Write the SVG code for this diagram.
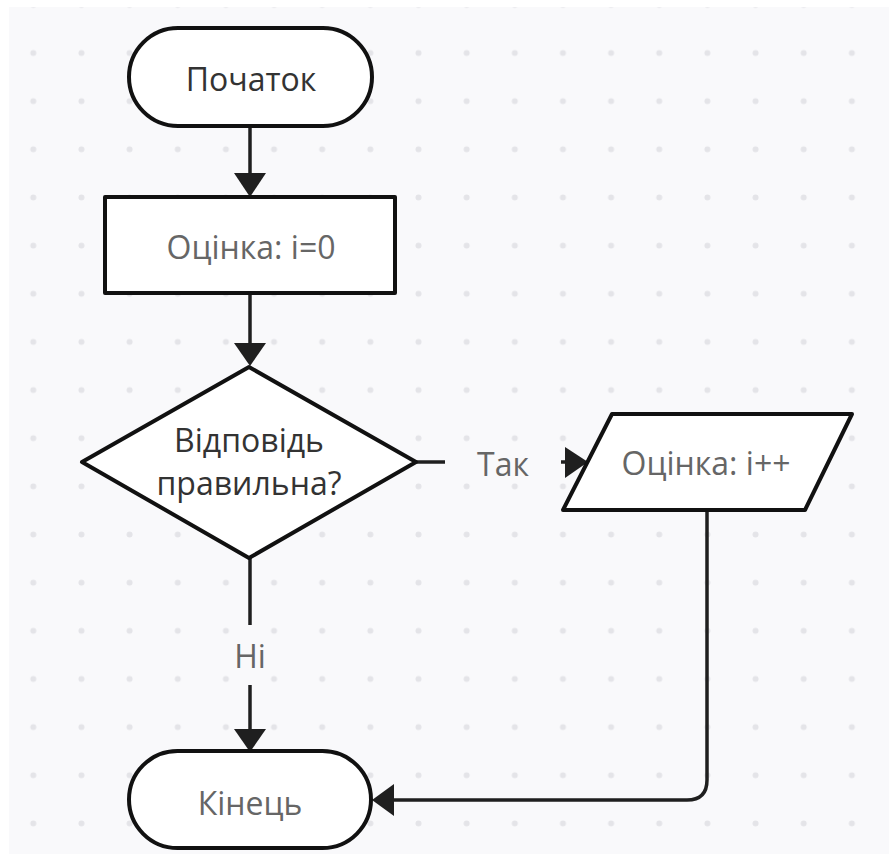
<svg xmlns="http://www.w3.org/2000/svg" width="889" height="854" viewBox="0 0 889 854">
  <defs>
    <pattern id="dots" x="9.2" y="-19.2" width="48.15" height="48.15" patternUnits="userSpaceOnUse">
      <circle cx="24.1" cy="24.1" r="3" fill="#e4e4e8"/>
    </pattern>
    <style>
      .shape { fill: #ffffff; stroke: #111111; stroke-width: 4; stroke-linejoin: round; }
      .conn { fill: none; stroke: #1f1f1f; stroke-width: 3.5; }
      .head { fill: #1f1f1f; }
      .t { font-family: "Open Sans", "Noto Sans", "DejaVu Sans", sans-serif; font-size: 32px; text-anchor: middle; }
      .dark { fill: #333333; }
      .grey { fill: #666666; }
    </style>
  </defs>

  <rect x="0" y="0" width="889" height="854" fill="#ffffff"/>
  <rect x="9" y="7" width="880" height="847" fill="#f9f9fb"/>
  <rect x="9" y="7" width="880" height="847" fill="url(#dots)"/>

  <g id="connectors">
    <line class="conn" x1="250" y1="126" x2="250" y2="175"/>
    <polygon class="head" points="234,173 266,173 250,197"/>
    <line class="conn" x1="250" y1="293" x2="250" y2="345"/>
    <polygon class="head" points="234,343 266,343 250,366"/>
    <line class="conn" x1="416" y1="462" x2="445" y2="462"/>
    <line class="conn" x1="561" y1="462" x2="566" y2="462"/>
    <polygon class="head" points="565,447 565,478 588,462"/>
    <path class="conn" d="M707,510 L707,780 Q707,800 687,800 L392,800"/>
    <polygon class="head" points="394,784 394,816 372,800"/>
    <line class="conn" x1="250" y1="558" x2="250" y2="625"/>
    <line class="conn" x1="250" y1="685" x2="250" y2="731"/>
    <polygon class="head" points="234,729 266,729 250,752"/>
    <text class="t grey" x="503" y="476">Так</text>
    <text class="t grey" x="250" y="668">Ні</text>
  </g>

  <g id="start">
    <rect class="shape" x="129" y="28" width="243" height="98" rx="49" ry="49"/>
    <text class="t dark" x="251" y="91">Початок</text>
  </g>

  <g id="init">
    <rect class="shape" x="105" y="197" width="290" height="96"/>
    <text class="t grey" x="251" y="259">Оцінка: i=0</text>
  </g>

  <g id="decision">
    <polygon class="shape" points="249,367 416,462 249,558 82,462"/>
    <text class="t dark" x="249" y="452">Відповідь</text>
    <text class="t dark" x="249" y="495">правильна?</text>
  </g>

  <g id="increment">
    <polygon class="shape" points="612,414 852,414 805,510 563,510"/>
    <text class="t grey" x="706" y="475">Оцінка: i++</text>
  </g>

  <g id="end">
    <rect class="shape" x="129" y="751" width="242" height="97" rx="48.5" ry="48.5"/>
    <text class="t grey" x="250" y="815">Кінець</text>
  </g>
</svg>
